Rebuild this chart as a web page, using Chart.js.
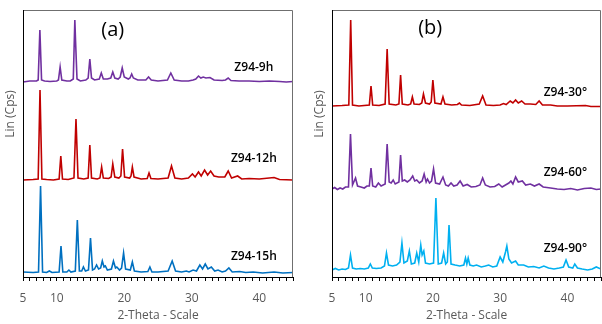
<!DOCTYPE html>
<html>
<head>
<meta charset="utf-8">
<script src="https://cdn.jsdelivr.net/npm/chart.js@4"></script>
<style>
  body { margin: 0; background: #fff; }
  #wrap { position: relative; width: 602px; height: 324px; }
  canvas { position: absolute; top: 0; }
</style>
</head>
<body>
<div id="wrap">
  <canvas id="chartA" width="300" height="324" style="left:0"></canvas>
  <canvas id="chartB" width="302" height="324" style="left:300px"></canvas>
</div>
<script>
// -------------------------
// DATA (2-theta, Lin counts, stacked)
// -------------------------
const tickLabels = [5, 10, 20, 30, 40];
const sampleNamesA = ["Z94-9h", "Z94-12h", "Z94-15h"];
const sampleNamesB = ["Z94-30°", "Z94-60°", "Z94-90°"];

const z94_9h = [[5,195],[6,196],[7,196],[7.25,197],[7.5,247],[7.75,197],[8.2,196],[9,195.5],[10,196],[10.25,197],[10.5,210],[10.75,197],[11.5,196],[12,196],[12.45,198],[12.68,257],[12.78,237],[13.0,198],[13.5,196],[14.3,197],[14.65,199],[14.9,218],[15.15,199],[15.6,197],[16.3,198],[16.6,204],[16.9,198],[17.5,198],[18.0,199],[18.3,205],[18.6,199],[19.1,198],[19.4,200],[19.7,209],[20.0,200],[20.6,198],[20.85,199],[21.1,203],[21.35,199],[22,197],[23.2,197],[23.6,200],[24,197],[25,196],[26.4,197],[26.9,204],[27.4,197],[28.5,196],[29.5,196],[30.2,197],[30.6,198],[31.0,201],[31.35,199],[31.7,200],[32.1,199],[32.7,199.5],[33.3,197],[34.5,196.5],[35.0,197],[35.4,199],[35.8,196.5],[37,196],[38.5,196],[40,195.5],[41.5,196],[43,195.5],[44,195],[45,195.5]];

const z94_12h = [[5,97],[6.5,97.5],[7.25,98],[7.52,187],[7.8,98],[8.5,97.5],[9.5,97],[10.35,98],[10.6,121],[10.85,98],[11.7,97.5],[12.55,99],[12.85,158],[13.15,99],[14,98],[14.65,99],[14.9,132],[15.15,99],[16,98],[16.4,99],[16.65,110],[16.9,99],[17.7,98.5],[18.05,100],[18.3,113],[18.6,100],[19.2,99],[19.5,101],[19.75,128],[20.05,100],[20.8,99],[21.0,101],[21.2,110],[21.45,100],[22.5,98],[23.4,98.5],[23.67,104],[23.95,98.5],[25,98],[26.5,99],[27.0,111],[27.5,99],[28.5,98],[29.5,99],[30.1,103],[30.5,100],[31.0,105],[31.4,101],[31.9,107],[32.35,102],[32.8,106],[33.3,101],[34,100],[34.9,100],[35.4,106],[35.9,99],[36.8,101],[37.4,98],[38.5,98.5],[40,98],[42.2,99.5],[43,97.5],[45,97]];

const z94_15h = [[5,5],[6.5,4.5],[7.3,5],[7.6,91],[7.9,5],[8.5,4.5],[8.9,6],[9.3,4.5],[10.35,5],[10.63,31],[10.9,5],[11.5,5],[11.8,7],[12.1,5],[12.75,6],[13.05,57],[13.35,6],[13.7,6],[13.95,10],[14.25,6],[14.7,7],[15.0,39],[15.3,7],[15.6,8],[15.9,12],[16.2,8],[16.5,9],[16.75,16],[17.0,10],[17.2,11],[17.5,7],[18.1,8],[18.4,16],[18.7,9],[18.9,10],[19.3,7],[19.6,9],[19.9,24],[20.2,8],[20.9,7],[21.2,15],[21.5,6],[22.5,5],[23.5,5.5],[23.8,10],[24.1,5],[25,5],[26.5,6],[27.1,16],[27.6,6],[28.5,5],[29.2,6],[29.6,5],[30.2,7],[30.7,6],[31.2,12],[31.6,8],[32.0,13],[32.4,8],[32.9,10],[33.4,6],[33.9,7],[34.5,5],[35.0,6],[35.5,9],[36,5],[37.1,5.5],[38,4.5],[39.1,5],[40.5,4],[42.2,5],[43.5,4],[45,4.5]];

const z94_30 = [[5,171],[6.5,171.5],[7.5,172],[7.78,257],[8.05,172],[9,171],[10.55,172],[10.8,191],[11.05,172],[12,171.5],[12.9,173],[13.2,228],[13.5,173],[14.5,172],[14.95,173],[15.2,202],[15.45,173],[16.3,172],[16.7,173],[16.95,180],[17.2,173],[18.0,172.5],[18.35,174],[18.6,183],[18.9,174],[19.5,173],[19.75,175],[20.0,197],[20.3,174],[21.2,173],[21.5,180],[21.8,173],[22.8,172],[23.65,172.5],[23.95,174],[24.25,172],[25.5,171.5],[26.9,173],[27.4,181],[27.9,172],[29,171.5],[30.0,172],[30.5,173.5],[30.9,172.5],[31.5,176],[31.9,174],[32.3,177],[32.7,174],[33.2,176],[33.7,173],[34.5,173],[35.3,172.5],[35.8,176],[36.3,172],[37.5,172],[38.5,171],[40,171],[42.7,171.5],[43.5,170.5],[45,170.5]];

const z94_60 = [[5,88],[5.4,89.5],[5.8,87.5],[6.2,89],[6.6,88],[7.0,90],[7.45,90],[7.75,143],[8.05,92],[8.5,99],[8.8,91],[9.3,90],[9.8,89],[10.2,91],[10.55,91],[10.8,109],[11.05,91],[11.5,90],[11.9,94],[12.3,91],[12.9,93],[13.2,133],[13.5,95],[13.8,94],[14.1,97],[14.4,93],[14.95,95],[15.2,122],[15.45,96],[15.8,97],[16.2,95],[16.6,97],[17.0,101],[17.3,96],[17.6,97],[18.0,94],[18.4,96],[18.7,103],[19.0,95],[19.2,98],[19.5,94],[19.8,96],[20.1,108],[20.4,94],[21.0,93],[21.5,100],[21.9,92],[22.3,91],[22.7,94],[23.1,91],[23.6,92],[24.05,96],[24.5,91],[25.1,92.5],[25.7,90],[26.4,90.5],[27.0,92],[27.4,99],[27.8,92],[28.5,90],[29.2,90.5],[29.8,93],[30.3,90],[30.8,92],[31.3,94],[31.6,96],[31.9,93],[32.3,100],[32.7,95],[33.3,96],[33.8,92],[34.5,93],[35.1,91],[35.8,93],[36.4,90],[37.5,89],[38.5,88],[39.5,87.5],[40.5,88.5],[41.5,87],[42.5,88.5],[43.5,89],[44.3,87.5],[45,88]];

const z94_90 = [[5,7],[5.5,8.5],[6.0,7],[6.5,8],[7.0,7.5],[7.45,9],[7.75,22],[8.05,9],[8.6,8],[9.2,8.5],[9.8,8],[10.4,9],[10.7,13],[11.0,9],[11.6,8.5],[12.3,9],[12.8,11],[13.1,24],[13.4,12],[14.0,11],[14.6,12],[15.1,15],[15.4,34],[15.7,14],[16.2,16],[16.5,26],[16.8,13],[17.3,14],[17.6,24],[17.9,15],[18.2,32],[18.4,22],[18.65,26],[18.9,14],[19.5,13],[20.1,14],[20.45,79],[20.8,13],[21.3,14],[21.6,24],[21.9,13],[22.15,15],[22.4,52],[22.7,13],[23.3,12],[24.0,11],[24.6,12],[24.85,19],[25.05,13],[25.25,19],[25.5,12],[26.0,11],[26.5,12],[27.2,10],[27.8,11],[28.3,12],[28.9,10],[29.5,11],[30.0,20],[30.4,15],[30.8,25],[31.0,31],[31.3,18],[31.7,14],[32.3,16],[32.7,12],[33.5,12],[34.2,10],[35,10.5],[35.8,9],[36.5,11],[37.2,9],[38,8],[38.8,9],[39.4,10],[39.8,17],[40.2,10],[40.8,9],[41.1,13],[41.5,9],[42.2,8],[43,7],[43.7,8],[44.3,10],[45,8]];

// -------------------------
// EXTRA TEXT + FRAME
// -------------------------
const textPlugin = {
    id: "panelText",
    afterDraw(chart, args, opts) {
        const ctx = chart.ctx;
        const a = chart.chartArea;
        const xs = chart.scales.x, ys = chart.scales.y;

        // frame: grey top / right, black left
        ctx.save();
        ctx.lineWidth = 1;
        ctx.strokeStyle = "#6f6f6f";
        ctx.beginPath();
        ctx.moveTo(a.left, a.top + 0.5);
        ctx.lineTo(a.right - 0.5, a.top + 0.5);
        ctx.lineTo(a.right - 0.5, a.bottom);
        ctx.stroke();
        ctx.strokeStyle = "#000";
        ctx.beginPath();
        ctx.moveTo(a.left + 0.5, a.top);
        ctx.lineTo(a.left + 0.5, a.bottom);
        ctx.stroke();

        // y title
        ctx.fillStyle = "#595959";
        ctx.font = "12px 'Open Sans'";
        ctx.textAlign = "center";
        ctx.textBaseline = "middle";
        ctx.translate(opts.yTitleX, 114);
        ctx.rotate(-Math.PI / 2);
        ctx.fillText("Lin (Cps)", 0, 0);
        ctx.restore();

        ctx.save();
        ctx.fillStyle = "#000";
        ctx.textAlign = "center";
        ctx.textBaseline = "middle";
        ctx.font = "20px 'Open Sans'";
        ctx.fillText(opts.panel, xs.getPixelForValue(opts.panelAt[0]), ys.getPixelForValue(opts.panelAt[1]));
        ctx.font = "600 12px 'Open Sans'";
        opts.names.forEach((n, i) => {
            ctx.fillText(n, xs.getPixelForValue(opts.nameX), ys.getPixelForValue(opts.nameY[i]));
        });
        ctx.restore();
    }
};

function makeChart(id, series, colors, padLeft, padRight, extra) {
    const ctx = document.getElementById(id).getContext("2d");
    return new Chart(ctx, {
        type: "line",
        data: {
            datasets: series.map((s, i) => ({
                data: s.map(p => ({ x: p[0], y: p[1] })),
                borderColor: colors[i],
                borderWidth: 1.6,
                pointRadius: 0,
                tension: 0,
                fill: false
            }))
        },
        options: {
            responsive: false,
            animation: false,
            devicePixelRatio: 1,
            layout: { padding: { left: padLeft, right: padRight, top: 10, bottom: 0 } },
            plugins: { legend: { display: false }, tooltip: { enabled: false }, panelText: extra },
            scales: {
                x: {
                    type: "linear",
                    min: 5,
                    max: 45,
                    afterFit: scale => {
                        scale.height = 47;
                        scale.paddingLeft = 0;
                        scale.paddingRight = 0;
                    },
                    grid: { drawOnChartArea: false, tickLength: 4, color: "#000" },
                    border: { color: "#000", width: 1 },
                    ticks: {
                        stepSize: 1,
                        autoSkip: false,
                        maxRotation: 0,
                        padding: 10,
                        color: "#595959",
                        font: { family: "Open Sans", size: 12 },
                        callback: v => tickLabels.includes(v) ? String(v) : ""
                    },
                    title: {
                        display: true,
                        text: "2-Theta - Scale",
                        color: "#595959",
                        font: { family: "Open Sans", size: 12 },
                        padding: { top: 0, bottom: 1 }
                    }
                },
                y: { display: false, min: 0, max: 267 }
            }
        },
        plugins: [textPlugin]
    });
}

makeChart("chartA", [z94_9h, z94_12h, z94_15h], ["#7030a0", "#c00000", "#0070c0"], 23, 7, {
    panel: "(a)", panelAt: [18.3, 247], yTitleX: 11,
    names: sampleNamesA, nameX: 39.2, nameY: [209, 118, 20]
});
makeChart("chartB", [z94_30, z94_60, z94_90], ["#c00000", "#7030a0", "#00b0f0"], 32, 1, {
    panel: "(b)", panelAt: [19.6, 249], yTitleX: 20,
    names: sampleNamesB, nameX: 39.7, nameY: [184, 104, 28]
});
</script>
</body>
</html>
